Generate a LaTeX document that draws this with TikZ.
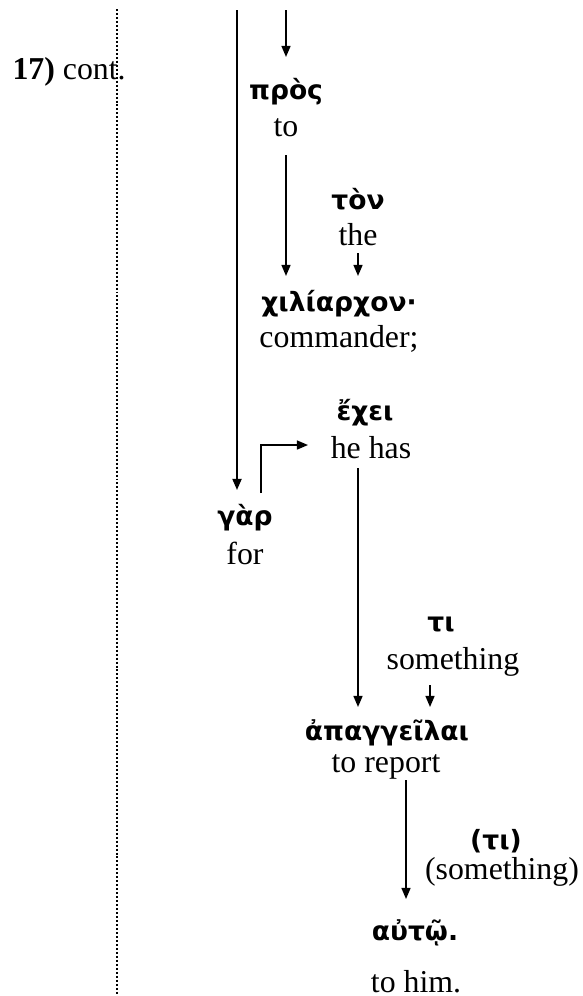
\documentclass[tikz,border=0pt]{standalone}
\usepackage{fontspec}
\setmainfont{Liberation Serif}
\newfontfamily\grk{DejaVu Sans}
\usetikzlibrary{arrows.meta,calc}
\begin{document}
\begin{tikzpicture}[x=0.377pt,y=-0.377pt,
  gk/.style={inner sep=0pt,font=\grk\bfseries\fontsize{10}{12}\selectfont},
  en/.style={inner sep=0pt,font=\fontsize{12}{14}\selectfont},
  arr/.style={-{Triangle[length=4.2pt,width=3.4pt]},line width=0.6pt},
  dots/.style={line width=0.75pt,dash pattern=on 0.75pt off 0.75pt}]
\useasboundingbox (0,0) rectangle (583,996);
% margin
\coordinate (d0) at (117,9);
\coordinate (d1) at (117,996);
\draw[dots] (d0) -- (d1);
\node[en,anchor=west] (cont) at (12,72) {\textbf{17)} cont.};
% words
\node[gk] (pros) at (286,92) {πρὸς};
\node[en] (to) at (286,128) {to};
\node[gk] (ton) at (358,199) {τὸν};
\node[en] (the) at (358,235) {the};
\node[gk] (chil) at (339,304) {χιλίαρχον·};
\node[en] (comm) at (339,339) {commander;};
\node[gk] (exei) at (365,413) {ἔχει};
\node[en] (hehas) at (371,448) {he has};
\node[gk] (gar) at (245,518) {γὰρ};
\node[en] (for) at (245,553) {for};
\node[gk] (ti) at (441,624) {τι};
\node[en] (smth) at (453,662) {something};
\node[gk] (apag) at (387,733) {ἀπαγγεῖλαι};
\node[en] (torep) at (386,767) {to report};
\node[gk] (ti2) at (496,841) {(τι)};
\node[en] (smth2) at (502,872) {(something)};
\node[gk] (auto) at (415,933) {αὐτῷ.};
\node[en] (tohim) at (416,982) {to him.};
% connector ends
\coordinate (l0) at (237,10);
\coordinate (s0) at (286,10);
\coordinate (l1) at ($(gar.center)+(-8,-28)$);
\coordinate (s1) at ($(pros.center)+(0,-35)$);
\coordinate (a1) at ($(to.center)+(0,27)$);
\coordinate (b1) at ($(chil.center)+(0,-28)$);
\coordinate (a2) at ($(the.center)+(0,18)$);
\coordinate (a3) at ($(gar.center)+(16,-25)$);
\coordinate (b3) at ($(hehas.center)+(-63,-3)$);
\coordinate (a4) at ($(hehas.center)+(-13,20)$);
\coordinate (b4) at ($(apag.center)+(0,-26)$);
\coordinate (a5) at ($(smth.center)+(-23,23)$);
\coordinate (a6) at ($(torep.center)+(20,13)$);
\coordinate (b6) at ($(auto.center)+(0,-34)$);
% connectors
\draw[arr,line width=0.75pt] (l0) -- (l0 |- l1);
\draw[arr] (s0) -- (s1);
\draw[arr] (a1) -- (a1 |- b1);
\draw[arr] (a2) -- (a2 |- b1);
\draw[arr] (a3) |- (b3);
\draw[arr] (a4) -- (a4 |- b4);
\draw[arr] (a5) -- (a5 |- b4);
\draw[arr] (a6) -- (a6 |- b6);
\end{tikzpicture}
\end{document}
